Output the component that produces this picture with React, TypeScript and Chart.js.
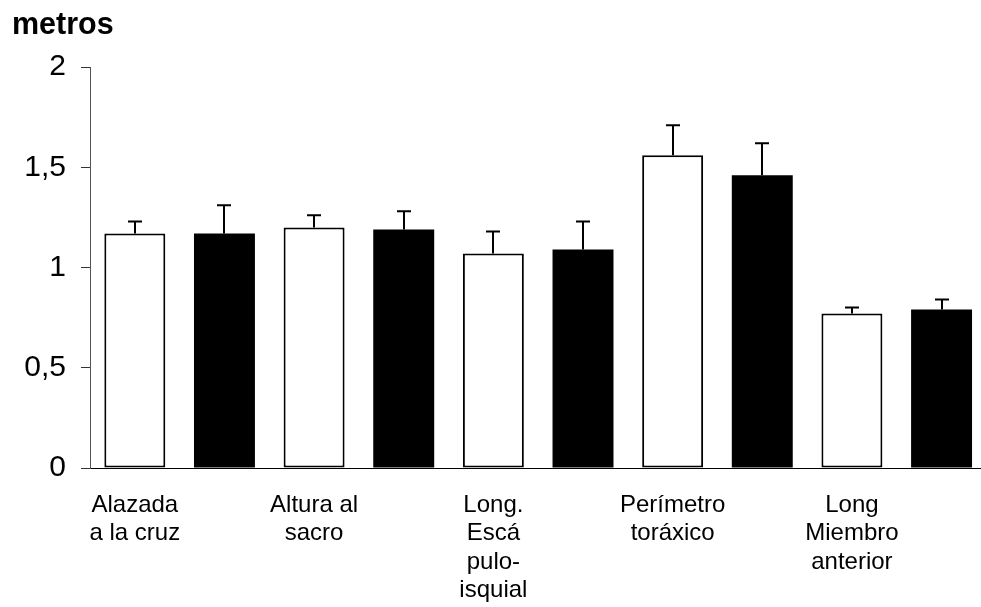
import React, { useEffect, useRef } from "react";
import { Chart, registerables } from "chart.js";

Chart.register(...registerables);

const categories: string[][] = [
  ["Alazada", "a la cruz"],
  ["Altura al", "sacro"],
  ["Long.", "Escá", "pulo-", "isquial"],
  ["Perímetro", "toráxico"],
  ["Long", "Miembro", "anterior"],
];
const whiteValues = [1.17, 1.2, 1.07, 1.56, 0.77];
const whiteErrors = [0.06, 0.06, 0.11, 0.15, 0.03];
const blackValues = [1.17, 1.19, 1.09, 1.46, 0.79];
const blackErrors = [0.14, 0.09, 0.14, 0.16, 0.05];
const yTicks = [0, 0.5, 1, 1.5, 2];

const FONT = "'Liberation Sans', Arial, Helvetica, sans-serif";

const errorBarPlugin = {
  id: "errorBars",
  afterDatasetsDraw(chart: any) {
    const ctx = chart.ctx;
    const yScale = chart.scales.y;
    chart.data.datasets.forEach((ds: any, di: number) => {
      const meta = chart.getDatasetMeta(di);
      const errs: number[] = ds.errors || [];
      meta.data.forEach((el: any, i: number) => {
        const v = ds.data[i].y;
        const e = errs[i];
        if (e == null) return;
        const x = Math.round(el.x);
        const yTop = yScale.getPixelForValue(v + e);
        const yBar = yScale.getPixelForValue(v);
        ctx.save();
        ctx.strokeStyle = "#000";
        ctx.lineWidth = 2;
        ctx.beginPath();
        ctx.moveTo(x, yBar);
        ctx.lineTo(x, yTop);
        ctx.moveTo(x - 7, yTop);
        ctx.lineTo(x + 7, yTop);
        ctx.stroke();
        ctx.restore();
      });
    });
  },
};

export default function App() {
  const ref = useRef<HTMLCanvasElement | null>(null);

  useEffect(() => {
    if (!ref.current) return;
    const chart = new Chart(ref.current, {
      type: "bar",
      data: {
        datasets: [
          {
            label: "A",
            data: whiteValues.map((v, i) => ({ x: 2 * i, y: v })),
            errors: whiteErrors,
            backgroundColor: "#ffffff",
            borderColor: "#000000",
            borderWidth: 2,
            borderSkipped: false,
            grouped: false,
            categoryPercentage: 1,
            barPercentage: 0.68,
          } as any,
          {
            label: "B",
            data: blackValues.map((v, i) => ({ x: 2 * i + 1, y: v })),
            errors: blackErrors,
            backgroundColor: "#000000",
            borderColor: "#000000",
            borderWidth: 0,
            grouped: false,
            categoryPercentage: 1,
            barPercentage: 0.68,
          } as any,
        ],
      },
      options: {
        responsive: false,
        animation: false,
        layout: { padding: { left: 12, right: 0, top: 0, bottom: 0 } },
        plugins: {
          legend: { display: false },
          tooltip: { enabled: false },
          title: {
            display: true,
            text: "metros",
            align: "start",
            color: "#000",
            font: { family: FONT, size: 30.5, weight: "bold" },
            padding: { top: 7, bottom: 23.4 },
          },
        },
        scales: {
          x: {
            type: "linear",
            min: -0.5,
            max: 9.44,
            offset: false,
            grid: { display: false, drawTicks: false, offset: false },
            border: { display: true, color: "#000", width: 1 },
            afterBuildTicks: (scale: any) => {
              scale.ticks = categories.map((_, i) => ({ value: 2 * i }));
            },
            afterFit: (scale: any) => {
              scale.height = 139;
            },
            ticks: {
              autoSkip: false,
              maxRotation: 0,
              minRotation: 0,
              padding: 23,
              color: "#000",
              font: { family: FONT, size: 24, lineHeight: "28.5px" } as any,
              callback: (_v: any, index: number) => categories[index],
            },
          },
          y: {
            min: 0,
            max: 2,
            afterBuildTicks: (scale: any) => {
              scale.ticks = yTicks.map((v) => ({ value: v }));
            },
            afterFit: (scale: any) => {
              scale.width = 78;
            },
            grid: {
              display: true,
              drawOnChartArea: false,
              drawTicks: true,
              tickLength: 9,
              color: "#333",
            },
            border: { display: true, color: "#555", width: 1 },
            ticks: {
              padding: 15,
              color: "#000",
              font: { family: FONT, size: 30 },
              callback: (v: any) => String(v).replace(".", ","),
            },
          },
        },
      } as any,
      plugins: [errorBarPlugin],
    });
    return () => chart.destroy();
  }, []);

  return (
    <div style={{ position: "fixed", left: 0, top: 0, width: 981, height: 607, background: "#fff" }}>
      <canvas ref={ref} width={981} height={607} style={{ display: "block" }} />
    </div>
  );
}
